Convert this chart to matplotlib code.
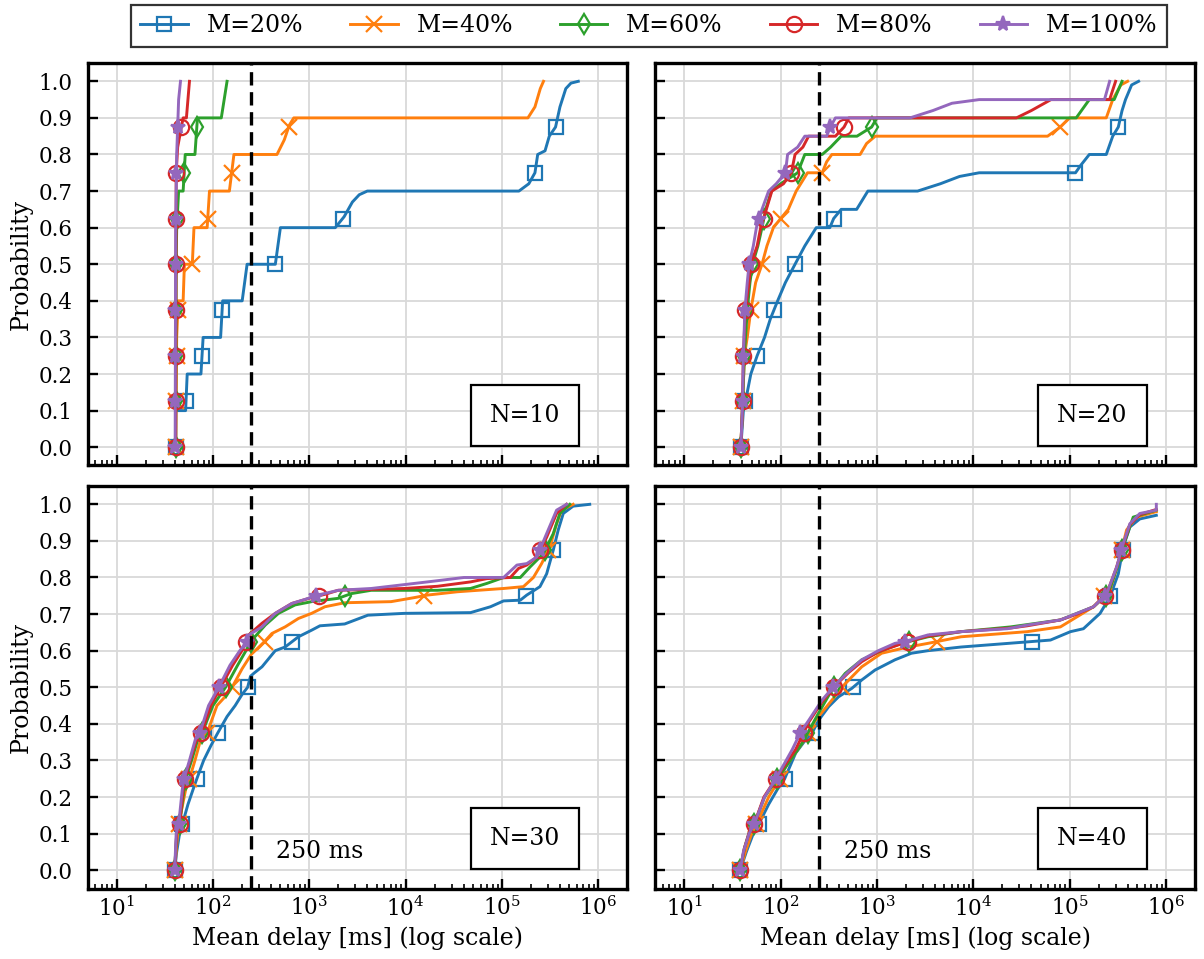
from __future__ import annotations

import matplotlib

matplotlib.use("Agg")
import matplotlib.pyplot as plt
import numpy as np


LOADS = ["M=20%", "M=40%", "M=60%", "M=80%", "M=100%"]
PANEL_LABELS = ["N=10", "N=20", "N=30", "N=40"]
DEADLINE_MS = 250
QUANTILE_LEVELS = [0.0, 0.125, 0.25, 0.375, 0.5, 0.625, 0.75, 0.875]

# curves: delay in ms and cumulative probability, one list per load
N10_DELAYS = [
    [41, 41, 52, 54, 75, 79, 120, 126, 201, 226, 444, 501, 1860, 2300, 2800, 3300, 4000,
     1.5e5, 1.9e5, 2.2e5, 2.35e5, 2.8e5, 3.1e5, 3.6e5, 4.0e5, 4.6e5, 5.2e5, 6.2e5],
    [41, 42, 43.5, 49, 50.5, 61, 63.5, 87, 92, 148, 165, 462, 550, 620, 690, 1.86e5, 2.2e5, 2.5e5, 2.7e5],
    [41, 41.5, 42, 44, 49, 51.5, 65, 69, 122, 140],
    [41, 41.5, 43, 47, 49, 53, 57],
    [40.5, 41, 42, 43, 44, 46],
]
N10_PROBS = [
    [0, 0.1, 0.1, 0.2, 0.2, 0.3, 0.3, 0.4, 0.4, 0.5, 0.5, 0.6, 0.6, 0.63, 0.67, 0.69, 0.7,
     0.7, 0.72, 0.75, 0.8, 0.81, 0.85, 0.875, 0.93, 0.98, 0.995, 1.0],
    [0, 0.3, 0.4, 0.4, 0.5, 0.5, 0.6, 0.6, 0.7, 0.7, 0.8, 0.8, 0.84, 0.88, 0.9, 0.9, 0.93, 0.98, 1.0],
    [0, 0.5, 0.6, 0.7, 0.7, 0.8, 0.8, 0.9, 0.9, 1.0],
    [0, 0.75, 0.82, 0.875, 0.9, 0.9, 1.0],
    [0, 0.6, 0.8, 0.875, 0.95, 1.0],
]

N20_DELAYS = [
    [38.6, 41, 45, 49, 57, 68, 78, 93, 112, 141, 178, 234, 324, 355, 425, 615, 804, 2640, 4550, 7200,
     11500, 1.15e5, 1.3e5, 1.6e5, 2.4e5, 2.8e5, 3.2e5, 3.5e5, 3.8e5, 4.4e5, 5.2e5],
    [38.6, 40, 42, 45, 49, 55, 64, 72, 84, 100, 120, 145, 190, 270, 300, 340, 668, 780, 960, 5.9e4,
     8e4, 1.0e5, 2.4e5, 2.8e5, 3.4e5, 4e5],
    [38.6, 40, 42, 45, 48, 51, 58, 64, 70, 80, 100, 150, 178, 270, 330, 425, 620, 880, 1000, 1.17e5,
     1.6e5, 2.9e5, 3.5e5],
    [38.6, 40, 41, 43, 47, 49, 57, 62, 71, 81, 107, 129, 141, 170, 195, 370, 455, 510, 2.8e4, 4e4,
     6.4e4, 2.6e5, 3e5],
    [38.6, 40, 41, 42.5, 45, 47, 52, 56, 64, 75, 90, 112, 118, 150, 178, 300, 328, 370, 2200, 3800,
     6000, 11500, 2.3e5, 2.6e5],
]
N20_PROBS = [
    [0, 0.1, 0.15, 0.2, 0.25, 0.3, 0.35, 0.4, 0.45, 0.5, 0.55, 0.6, 0.6, 0.625, 0.65, 0.65, 0.7, 0.7, 0.72, 0.74,
     0.75, 0.75, 0.77, 0.8, 0.8, 0.85, 0.875, 0.92, 0.95, 0.99, 1.0],
    [0, 0.1, 0.25, 0.3, 0.375, 0.45, 0.5, 0.55, 0.6, 0.625, 0.65, 0.7, 0.75, 0.75, 0.78, 0.8, 0.8, 0.83, 0.85, 0.85,
     0.875, 0.9, 0.9, 0.95, 0.99, 1.0],
    [0, 0.1, 0.25, 0.375, 0.45, 0.5, 0.55, 0.6, 0.65, 0.7, 0.72, 0.75, 0.8, 0.8, 0.82, 0.85, 0.85, 0.875, 0.9, 0.9,
     0.95, 0.95, 1.0],
    [0, 0.1, 0.25, 0.375, 0.45, 0.5, 0.55, 0.6, 0.65, 0.7, 0.72, 0.75, 0.8, 0.82, 0.85, 0.85, 0.875, 0.9, 0.9, 0.92,
     0.95, 0.95, 1.0],
    [0, 0.1, 0.25, 0.375, 0.45, 0.5, 0.55, 0.6, 0.65, 0.7, 0.72, 0.75, 0.8, 0.82, 0.85, 0.85, 0.875, 0.9, 0.9, 0.92,
     0.94, 0.95, 0.95, 1.0],
]

N30_DELAYS = [
    [40, 42, 45, 48, 55, 62, 68, 80, 95, 112, 140, 170, 200, 229, 245, 265, 323, 443, 561, 771,
     1057, 1290, 2330, 4055, 9680, 47200, 75900, 1.04e5, 1.55e5, 1.81e5, 2.48e5, 2.91e5, 3.41e5, 3.84e5,
     4.33e5, 5.48e5, 8.15e5],
    [40, 43, 46, 52, 57, 65, 75, 87, 110, 140, 158, 200, 250, 300, 343, 409, 561, 771, 1057, 1452,
     2330, 7060, 12280, 16900, 34400, 1.04e5, 1.67e5, 2.12e5, 2.58e5, 3.15e5, 3.69e5, 4.16e5, 5.48e5],
    [40, 42, 45, 50, 52, 60, 70, 77, 100, 135, 180, 220, 254, 349, 479, 711, 1057, 1990, 2730, 4390,
     21400, 47200, 70000, 1.04e5, 1.55e5, 1.96e5, 2.69e5, 3.41e5, 3.99e5, 5.06e5],
    [40, 42, 45, 49, 51, 58, 68, 76, 95, 120, 160, 200, 235, 323, 443, 658, 1057, 1500, 1990, 9680,
     21400, 47200, 70000, 1.22e5, 1.49e5, 1.81e5, 2.3e5, 2.91e5, 3.69e5, 4.68e5],
    [40, 41.5, 44, 48, 50, 57, 66, 73, 90, 115, 150, 190, 226, 235, 323, 443, 658, 900, 1230, 2000,
     4390, 16900, 40300, 1.04e5, 1.43e5, 1.81e5, 2.3e5, 2.91e5, 3.69e5, 4.68e5],
]
N30_PROBS = [
    [0, 0.05, 0.1, 0.125, 0.18, 0.22, 0.25, 0.3, 0.34, 0.375, 0.42, 0.45, 0.48, 0.5, 0.53, 0.538, 0.556, 0.6,
     0.61, 0.638, 0.656, 0.668, 0.673, 0.697, 0.702, 0.704, 0.72, 0.736, 0.738, 0.752, 0.775, 0.81, 0.875,
     0.93, 0.975, 0.995, 1.0],
    [0, 0.1, 0.15, 0.22, 0.25, 0.3, 0.36, 0.375, 0.45, 0.48, 0.5, 0.55, 0.59, 0.61, 0.625, 0.647, 0.665, 0.688,
     0.702, 0.72, 0.731, 0.734, 0.745, 0.752, 0.761, 0.77, 0.775, 0.8, 0.838, 0.884, 0.947, 0.984, 1.0],
    [0, 0.1, 0.125, 0.22, 0.25, 0.3, 0.36, 0.375, 0.45, 0.5, 0.56, 0.6, 0.629, 0.67, 0.702, 0.725, 0.734, 0.743,
     0.756, 0.765, 0.765, 0.77, 0.784, 0.8, 0.8, 0.829, 0.865, 0.92, 0.975, 1.0],
    [0, 0.1, 0.125, 0.22, 0.25, 0.3, 0.36, 0.375, 0.45, 0.5, 0.56, 0.6, 0.643, 0.675, 0.702, 0.729, 0.745, 0.755,
     0.765, 0.77, 0.776, 0.788, 0.797, 0.8, 0.825, 0.834, 0.856, 0.91, 0.975, 1.0],
    [0, 0.1, 0.125, 0.22, 0.25, 0.3, 0.36, 0.375, 0.45, 0.5, 0.56, 0.6, 0.625, 0.643, 0.665, 0.702, 0.729, 0.74,
     0.752, 0.765, 0.77, 0.788, 0.8, 0.8, 0.834, 0.838, 0.856, 0.92, 0.984, 1.0],
]

N40_DELAYS = [
    [38, 44, 52, 59, 75, 92, 110, 143, 181, 212, 248, 315, 399, 548, 695, 953, 1535, 2277, 3380, 7460,
     36300, 63200, 1.02e5, 1.39e5, 2.07e5, 2.62e5, 3.2e5, 3.6e5, 4.22e5, 5.35e5, 7.94e5],
    [38, 43, 50, 56, 75, 98, 113, 167, 230, 341, 468, 695, 1117, 2100, 3380, 7460, 36300, 80200, 1.77e5,
     2.62e5, 3.33e5, 3.9e5, 4.94e5, 7.94e5],
    [38, 42, 48, 53, 68, 92, 108, 167, 248, 341, 468, 695, 1117, 1795, 3380, 7460, 24450, 80200, 1.77e5,
     2.52e5, 3.2e5, 3.75e5, 4.57e5, 7.94e5],
    [38, 42, 48, 53, 67, 89, 100, 143, 196, 269, 355, 506, 695, 1033, 2100, 3380, 7460, 24450, 36300, 80200,
     1.19e5, 1.77e5, 2.43e5, 3.08e5, 3.6e5, 4.22e5, 5.35e5, 7.94e5],
    [38, 41, 47, 53, 68, 89, 96, 132, 161, 196, 269, 355, 506, 695, 1033, 1535, 1950, 3380, 7460, 22600,
     36300, 80200, 1.19e5, 1.77e5, 2.43e5, 3.08e5, 3.6e5, 4.22e5, 5.35e5, 7.94e5, 7.94e5],
]
N40_PROBS = [
    [0, 0.05, 0.1, 0.125, 0.18, 0.22, 0.25, 0.32, 0.356, 0.375, 0.41, 0.447, 0.474, 0.497, 0.52, 0.547, 0.575,
     0.593, 0.6, 0.61, 0.624, 0.629, 0.652, 0.66, 0.702, 0.747, 0.81, 0.884, 0.938, 0.96, 0.97],
    [0, 0.05, 0.1, 0.125, 0.2, 0.25, 0.283, 0.347, 0.41, 0.465, 0.51, 0.556, 0.593, 0.61, 0.62, 0.638, 0.652,
     0.665, 0.72, 0.765, 0.856, 0.93, 0.965, 0.98],
    [0, 0.06, 0.11, 0.125, 0.2, 0.25, 0.275, 0.347, 0.43, 0.493, 0.538, 0.575, 0.6, 0.62, 0.638, 0.652, 0.665,
     0.684, 0.72, 0.756, 0.838, 0.9, 0.965, 0.984],
    [0, 0.06, 0.11, 0.125, 0.2, 0.25, 0.27, 0.33, 0.405, 0.46, 0.5, 0.54, 0.57, 0.597, 0.625, 0.64, 0.652,
     0.662, 0.668, 0.684, 0.7, 0.72, 0.756, 0.829, 0.89, 0.945, 0.972, 0.986],
    [0, 0.05, 0.1, 0.125, 0.2, 0.25, 0.265, 0.33, 0.377, 0.41, 0.465, 0.502, 0.543, 0.575, 0.6, 0.62, 0.625,
     0.643, 0.652, 0.66, 0.67, 0.684, 0.702, 0.72, 0.756, 0.829, 0.893, 0.947, 0.975, 0.984, 1.0],
]

COLORS = ["#1f77b4", "#ff7f0e", "#2ca02c", "#d62728", "#9467bd"]
MARKERS = ["s", "x", "d", "o", "*"]
MARKER_SIZES = [10, 11, 10, 11, 11]


def with_quantile_marks(delays: list[float], probs: list[float]) -> tuple[list[float], list[float], list[int]]:
    """Insert the points where the curve crosses each quantile level, return their indices for markevery."""
    logx = np.log10(np.asarray(delays, dtype=float))
    y = np.asarray(probs, dtype=float)
    crossings: dict[int, list[tuple[float, float]]] = {}
    for level in QUANTILE_LEVELS:
        for i in range(len(y) - 1):
            if y[i] <= level < y[i + 1]:
                t = (level - y[i]) / (y[i + 1] - y[i])
                crossings.setdefault(i, []).append((t, level))
                break

    xs: list[float] = []
    ys: list[float] = []
    marks: list[int] = []
    for i in range(len(y)):
        xs.append(10 ** logx[i])
        ys.append(y[i])
        for t, level in sorted(crossings.get(i, [])):
            xs.append(10 ** (logx[i] + t * (logx[i + 1] - logx[i])))
            ys.append(level)
            marks.append(len(xs) - 1)
    return xs, ys, marks


def draw_panel(ax: plt.Axes, delays: list[list[float]], probs: list[list[float]], label: str, bottom_row: bool) -> None:
    for k in range(len(LOADS)):
        xs, ys, marks = with_quantile_marks(delays[k], probs[k])
        face = COLORS[k] if MARKERS[k] == "*" else "none"
        ax.plot(
            xs, ys, color=COLORS[k], lw=2.1, marker=MARKERS[k], markevery=marks,
            ms=MARKER_SIZES[k], mfc=face, mec=COLORS[k], mew=1.6, label=LOADS[k],
        )

    ax.axvline(DEADLINE_MS, color="black", ls=(0, (4, 2)), lw=2.4)
    ax.set_xscale("log")
    ax.set_xlim(5, 2e6)
    ax.set_ylim(-0.05, 1.05)
    ax.set_yticks(np.arange(0, 1.01, 0.1))
    ax.grid(True, which="major", color="0.85", lw=1.3)
    ax.set_axisbelow(True)

    ax.tick_params(which="both", direction="in", top=False, right=False, labelsize=15.5)
    ax.tick_params(which="major", length=7, width=1.7)
    ax.tick_params(which="minor", length=3.5, width=1.2)
    ax.tick_params(axis="y", pad=11)
    ax.tick_params(axis="x", pad=6)
    for spine in ax.spines.values():
        spine.set_linewidth(2.4)

    ax.text(
        0.81, 0.125, label, transform=ax.transAxes, ha="center", va="center", fontsize=17,
        bbox=dict(boxstyle="square,pad=0.8", fc="white", ec="black", lw=1.6),
    )
    if bottom_row:
        ax.text(450, 0.05, f"{DEADLINE_MS} ms", fontsize=17, va="center")
        ax.set_xlabel("Mean delay [ms] (log scale)", fontsize=17)


def main() -> None:
    plt.rcParams["font.family"] = "DejaVu Serif"
    plt.rcParams["mathtext.fontset"] = "dejavuserif"

    fig, axes = plt.subplots(2, 2, sharex=True, sharey=True, figsize=(12.04, 9.59))
    fig.subplots_adjust(left=0.0728, right=0.9925, bottom=0.0735, top=0.9343, wspace=0.052, hspace=0.051)

    panels = [
        (N10_DELAYS, N10_PROBS),
        (N20_DELAYS, N20_PROBS),
        (N30_DELAYS, N30_PROBS),
        (N40_DELAYS, N40_PROBS),
    ]
    for index, (ax, (delays, probs)) in enumerate(zip(axes.flat, panels)):
        draw_panel(ax, delays, probs, PANEL_LABELS[index], bottom_row=index >= 2)
    for ax in axes[:, 0]:
        ax.set_ylabel("Probability", fontsize=17)

    handles, labels = axes[0, 0].get_legend_handles_labels()
    legend = fig.legend(
        handles, labels, loc="upper center", bbox_to_anchor=(0.539, 1.0), ncol=5, fontsize=17,
        fancybox=False, framealpha=1, edgecolor="#333333", borderaxespad=0.2,
    )
    legend.get_frame().set_linewidth(1.6)

    fig.savefig("out.png", dpi=100)
    plt.close(fig)


if __name__ == "__main__":
    main()
